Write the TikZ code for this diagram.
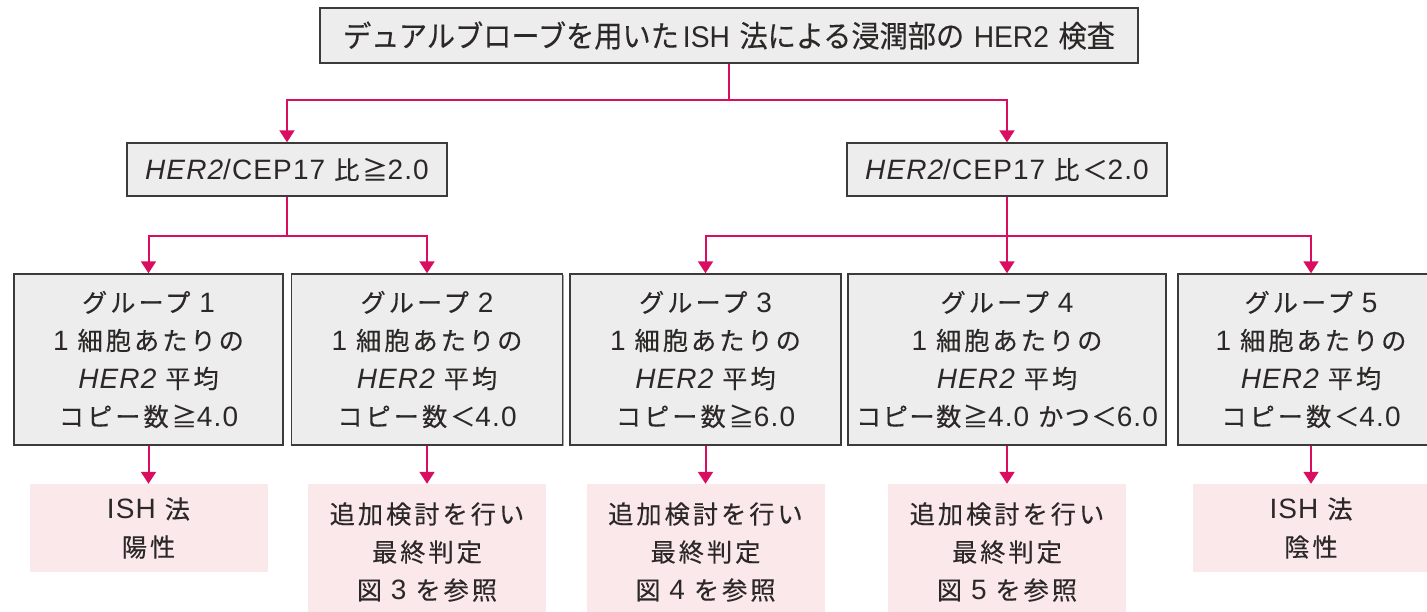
\documentclass[tikz,border=0pt]{standalone}
\usepackage{fontspec}
\usetikzlibrary{arrows.meta,shadows}
\setmainfont{Liberation Sans}[LetterSpace=4]
\newfontfamily\jp{Noto Sans CJK JP}[LetterSpace=12,Scale=0.9,FakeBold=0.3]
\newfontfamily\jpn{Noto Sans CJK JP}[LetterSpace=6,Scale=0.9,FakeBold=0.3]
\newfontfamily\jptop{Noto Sans CJK JP}[FakeStretch=0.94,FakeBold=0.3]
\newfontfamily\lattop{Liberation Sans}[FakeStretch=0.94]
\definecolor{boxfill}{HTML}{EDEDED}
\definecolor{boxline}{HTML}{3C3A3A}
\definecolor{resfill}{HTML}{FAE8EA}
\definecolor{pinkline}{RGB}{217,14,96}
\definecolor{txt}{HTML}{2C2828}
\tikzset{
  gbox/.style={draw=boxline, fill=boxfill, line width=1.4pt, align=center,
    inner sep=0pt, text=txt, font=\fontsize{28}{38}\selectfont,
    drop shadow={shadow xshift=1.2pt, shadow yshift=-1.2pt, fill=black!35, opacity=1}},
  rbox/.style={fill=resfill, align=center, inner sep=0pt, text=txt,
    font=\fontsize{28}{38}\selectfont},
  conn/.style={draw=pinkline, line width=2pt},
  arr/.style={conn, -{Triangle[width=15pt,length=12pt]}},
}
\begin{document}
\begin{tikzpicture}[x=1pt,y=-1pt]
\path[use as bounding box] (0,0) rectangle (1427,612);
\clip (0,0) rectangle (1427,612);
% top
\node[gbox, minimum width=818, minimum height=55, font=\fontsize{30}{32}\selectfont] (top) at (729,35.5)
  {{\jptop デュアルブローブを用いた}\hspace{4pt}{\lattop ISH} {\jptop 法による浸潤部の} {\lattop HER2} {\jptop 検査}};
% level 2
\node[gbox, minimum width=320, minimum height=53] (L2a) at (287,169.5)
  {{\itshape HER2}/CEP17 {\jp 比≧}2.0};
\node[gbox, minimum width=320, minimum height=53] (L2b) at (1007,169.5)
  {{\itshape HER2}/CEP17 {\jp 比＜}2.0};
% groups
\node[gbox, minimum width=269, minimum height=171] (G1) at (148.5,359.5)
  {{\jp グループ} 1\\1 {\jp 細胞あたりの}\\{\itshape HER2} {\jp 平均}\\{\jp コピー数≧}4.0};
\node[gbox, minimum width=271, minimum height=171] (G2) at (427,359.5)
  {{\jp グループ} 2\\1 {\jp 細胞あたりの}\\{\itshape HER2} {\jp 平均}\\{\jp コピー数＜}4.0};
\node[gbox, minimum width=271, minimum height=171] (G3) at (705.5,359.5)
  {{\jp グループ} 3\\1 {\jp 細胞あたりの}\\{\itshape HER2} {\jp 平均}\\{\jp コピー数≧}6.0};
\node[gbox, minimum width=318, minimum height=171] (G4) at (1007,359.5)
  {{\jp グループ} 4\\1 {\jp 細胞あたりの}\\{\itshape HER2} {\jp 平均}\\{\jpn コピー数≧}4.0 {\jpn かつ＜}6.0};
\node[gbox, minimum width=266, minimum height=171] (G5) at (1311,359.5)
  {{\jp グループ} 5\\1 {\jp 細胞あたりの}\\{\itshape HER2} {\jp 平均}\\{\jp コピー数＜}4.0};
% results
\node[rbox, minimum width=238, minimum height=88] (R1) at (148.5,528)
  {ISH {\jp 法}\\{\jp 陽性}};
\node[rbox, minimum width=238, minimum height=136] (R2) at (427,552)
  {{\jp 追加検討を行い}\\{\jp 最終判定}\\{\jp 図} 3 {\jp を参照}};
\node[rbox, minimum width=238, minimum height=136] (R3) at (705.5,552)
  {{\jp 追加検討を行い}\\{\jp 最終判定}\\{\jp 図} 4 {\jp を参照}};
\node[rbox, minimum width=238, minimum height=136] (R4) at (1007,552)
  {{\jp 追加検討を行い}\\{\jp 最終判定}\\{\jp 図} 5 {\jp を参照}};
\node[rbox, minimum width=236, minimum height=88] (R5) at (1311,528)
  {ISH {\jp 法}\\{\jp 陰性}};
% connectors
\coordinate (jt) at (729,100);
\coordinate (ja) at (287,236);
\coordinate (jb) at (1007,236);
\draw[conn] (top.south) -- (jt);
\draw[arr] (jt) -| (L2a.north);
\draw[arr] (jt) -| (L2b.north);
\draw[conn] (L2a.south) -- (ja);
\draw[arr] (ja) -| (G1.north);
\draw[arr] (ja) -| (G2.north);
\draw[arr] (L2b.south) -- (G4.north);
\draw[arr] (jb) -| (G3.north);
\draw[arr] (jb) -| (G5.north);
\draw[arr] (G1.south) -- (R1.north);
\draw[arr] (G2.south) -- (R2.north);
\draw[arr] (G3.south) -- (R3.north);
\draw[arr] (G4.south) -- (R4.north);
\draw[arr] (G5.south) -- (R5.north);
\end{tikzpicture}
\end{document}
